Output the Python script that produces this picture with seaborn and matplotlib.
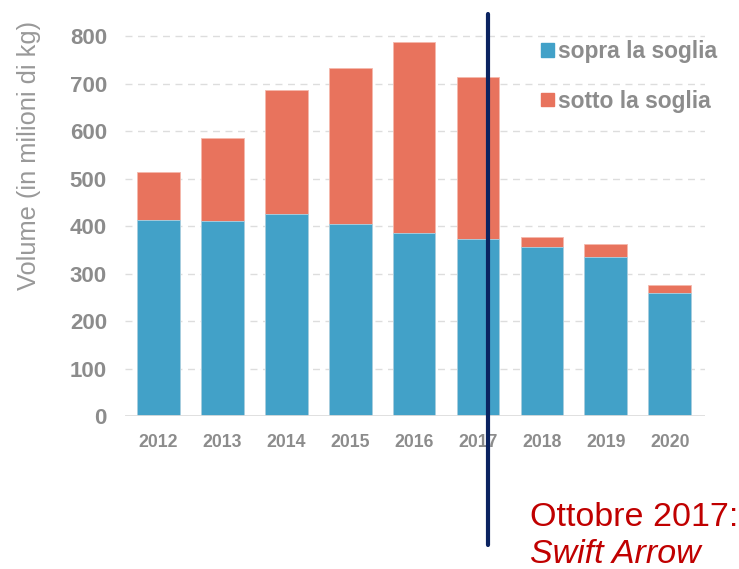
import matplotlib
matplotlib.use("Agg")
import matplotlib.pyplot as plt
import pandas as pd
import seaborn as sns
from matplotlib.patches import Patch

anni = ["2012", "2013", "2014", "2015", "2016", "2017", "2018", "2019", "2020"]
sopra = [413, 410, 425, 404, 385, 373, 356, 335, 259]
sotto = [101, 175, 261, 329, 403, 340, 22, 27, 17]

df = pd.DataFrame({"anno": anni, "sopra": sopra, "sotto": sotto})
df["totale"] = df["sopra"] + df["sotto"]

BLU = "#42A1C8"
ARANCIO = "#E8735D"
GRIGIO = "#8C8C8C"

sns.set_theme(style="white")
plt.rcParams["font.family"] = ["Liberation Sans", "DejaVu Sans"]

W, H = 739, 569
fig = plt.figure(figsize=(W / 100, H / 100), dpi=100)
ax = fig.add_axes([125 / W, 1 - 416 / H, 580 / W, 396 / H])

sns.barplot(data=df, x="anno", y="totale", color=ARANCIO, width=0.67,
            edgecolor="#F5B8AC", linewidth=0.6, saturation=1, ax=ax)
sns.barplot(data=df, x="anno", y="sopra", color=BLU, width=0.67,
            edgecolor="#A9D4E6", linewidth=0.6, saturation=1, ax=ax)

ax.set_xlim(-0.52, 8.55)
ax.set_ylim(0, 834)
ax.set_yticks(range(0, 801, 100))
ax.set_xlabel("")
ax.set_ylabel("")
for y in range(100, 801, 100):
    ax.axhline(y, color="#DDDDDD", lw=1, ls=(0, (5, 4)), zorder=0)
ax.axhline(0, color="#DDDDDD", lw=2, zorder=3)

for s in ["top", "right", "left", "bottom"]:
    ax.spines[s].set_visible(False)

ax.tick_params(axis="y", length=0, pad=13, labelsize=16, labelcolor=GRIGIO)
ax.tick_params(axis="x", length=0, pad=13, labelsize=12.7, labelcolor=GRIGIO)
for lab in ax.get_xticklabels() + ax.get_yticklabels():
    lab.set_fontweight("bold")

# linea verticale: Ottobre 2017
ax.axvline(5.15, ymin=-272 / 834, ymax=846 / 834, color="#0B2360", lw=3,
           clip_on=False, zorder=5)

fig.text(29 / W, 1 - 155 / H, "Volume (in milioni di kg)", rotation=90,
         ha="center", va="center", fontsize=18.3, color="#999999")

handles = [Patch(color=BLU, label="sopra la soglia"),
           Patch(color=ARANCIO, label="sotto la soglia")]
leg = ax.legend(handles=handles, loc="upper left",
                bbox_to_anchor=(530 / W, 1 - 29 / H), bbox_transform=fig.transFigure,
                frameon=False, handlelength=0.55, handleheight=0.55,
                handletextpad=0.2, labelspacing=1.15, borderpad=0,
                prop={"size": 16.4, "weight": "bold"})
for t in leg.get_texts():
    t.set_color(GRIGIO)

fig.text(530 / W, 1 - 526 / H, "Ottobre 2017:", fontsize=24.5,
         color="#C00000", ha="left", va="baseline")
fig.text(530 / W, 1 - 563 / H, "Swift Arrow", fontsize=24.5, style="italic",
         color="#C00000", ha="left", va="baseline")

fig.savefig("out.png", dpi=100)
